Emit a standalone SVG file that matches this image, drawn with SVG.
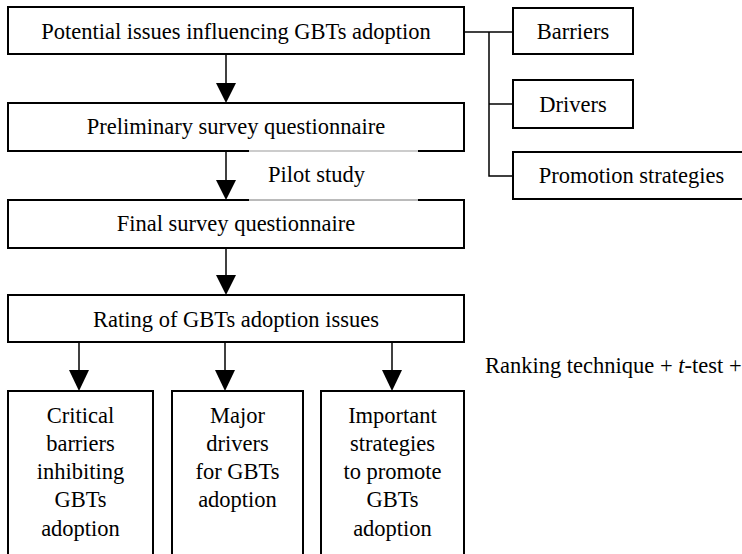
<svg xmlns="http://www.w3.org/2000/svg" width="742" height="554" viewBox="0 0 742 554">
<defs>
<style>
.box{fill:#fff;stroke:#000;stroke-width:2}
.t{font-size:22.5px;fill:#000;text-anchor:middle}
.ln{stroke:#000;stroke-width:1.5;fill:none}
</style>
</defs>
<rect width="742" height="554" fill="#fff"/>
<g id="connectors">
<line class="ln" x1="226" y1="54" x2="226" y2="84"/>
<path d="M216,83 L236,83 L226,103 Z"/>
<line class="ln" x1="226" y1="151" x2="226" y2="181"/>
<path d="M216,180 L236,180 L226,200 Z"/>
<line class="ln" x1="226" y1="248" x2="226" y2="276"/>
<path d="M216,275 L236,275 L226,295 Z"/>
<line class="ln" x1="79" y1="342" x2="79" y2="371"/>
<path d="M69,370 L89,370 L79,391 Z"/>
<line class="ln" x1="225" y1="342" x2="225" y2="371"/>
<path d="M215,370 L235,370 L225,391 Z"/>
<line class="ln" x1="392" y1="342" x2="392" y2="371"/>
<path d="M382,370 L402,370 L392,391 Z"/>
<polyline class="ln" points="464,32 513,32"/>
<polyline class="ln" points="489,32 489,176 513,176"/>
<line class="ln" x1="489" y1="104" x2="513" y2="104"/>
</g>
<g font-family="Liberation Serif, Times New Roman, DejaVu Serif, serif">
<g id="n1"><rect class="box" x="8" y="7" width="456" height="47"/><text class="t" x="236" y="39">Potential issues influencing GBTs adoption</text></g>
<g id="n2"><rect class="box" x="8" y="103" width="456" height="48"/><text class="t" x="236" y="134">Preliminary survey questionnaire</text></g>
<g id="n3"><rect class="box" x="8" y="200" width="456" height="48"/><text class="t" x="236" y="231">Final survey questionnaire</text></g>
<g id="pilot">
<rect x="249" y="149" width="169" height="53" fill="#fff"/>
<line x1="249" y1="151" x2="418" y2="151" stroke="#999" stroke-width="1"/>
<line x1="249" y1="200" x2="418" y2="200" stroke="#777" stroke-width="1"/>
<text class="t" x="316.5" y="182">Pilot study</text>
</g>
<g id="n4"><rect class="box" x="8" y="295" width="456" height="47"/><text class="t" x="236" y="327">Rating of GBTs adoption issues</text></g>
<g id="barriers"><rect class="box" x="513" y="8" width="120" height="46"/><text class="t" x="573" y="39">Barriers</text></g>
<g id="drivers"><rect class="box" x="513" y="80" width="120" height="48"/><text class="t" x="573" y="112">Drivers</text></g>
<g id="promotion"><rect class="box" x="513" y="152" width="240" height="47"/><text class="t" x="631.5" y="183">Promotion strategies</text></g>
<g id="ranking"><text class="t" x="485" y="373" text-anchor="start" style="text-anchor:start">Ranking technique + <tspan font-style="italic">t</tspan>-test +</text></g>
<g id="b1"><rect class="box" x="8" y="391" width="145" height="175"/>
<text class="t" x="80.5"><tspan x="80.5" y="422.5">Critical</tspan><tspan x="80.5" y="450.75">barriers</tspan><tspan x="80.5" y="479">inhibiting</tspan><tspan x="80.5" y="507.25">GBTs</tspan><tspan x="80.5" y="535.5">adoption</tspan></text></g>
<g id="b2"><rect class="box" x="172" y="391" width="131" height="175"/>
<text class="t" x="237.5"><tspan x="237.5" y="422.5">Major</tspan><tspan x="237.5" y="450.75">drivers</tspan><tspan x="237.5" y="479">for GBTs</tspan><tspan x="237.5" y="507.25">adoption</tspan></text></g>
<g id="b3"><rect class="box" x="321" y="391" width="143" height="175"/>
<text class="t" x="392.5"><tspan x="392.5" y="422.5">Important</tspan><tspan x="392.5" y="450.75">strategies</tspan><tspan x="392.5" y="479">to promote</tspan><tspan x="392.5" y="507.25">GBTs</tspan><tspan x="392.5" y="535.5">adoption</tspan></text></g>
</g>
</svg>
